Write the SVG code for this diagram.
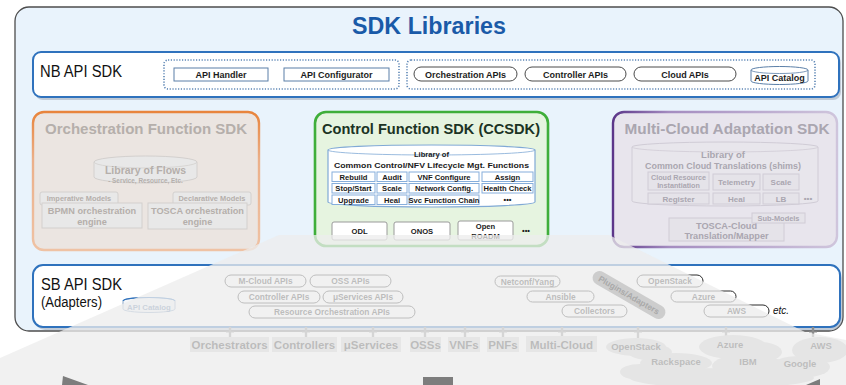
<svg xmlns="http://www.w3.org/2000/svg" width="846" height="385" viewBox="0 0 846 385">
  <defs>
    <linearGradient id="orchStroke" x1="0" y1="0" x2="0" y2="1">
      <stop offset="0" stop-color="#e8843c"/>
      <stop offset="0.35" stop-color="#ebb08a"/>
      <stop offset="1" stop-color="#efc2a4"/>
    </linearGradient>
    <linearGradient id="mcStroke" x1="0" y1="0" x2="1" y2="0">
      <stop offset="0" stop-color="#5c3689"/>
      <stop offset="0.25" stop-color="#a48cc0"/>
      <stop offset="1" stop-color="#cfc5dc"/>
    </linearGradient>
    <style>
      text { font-family: "Liberation Sans", "Open Sans", Arial, sans-serif; }
      .b { font-weight: bold; }
      .mid { text-anchor: middle; }
      .dot { fill: none; stroke: #5d86b5; stroke-width: 1.6; stroke-dasharray: 1.2 1.6; }
      .nbbox { fill: #ffffff; stroke: #5b7fa8; stroke-width: 1; }
      .nbpill { fill: #ffffff; stroke: #4a4a4a; stroke-width: 1; }
      .nbt { font-size: 9px; font-weight: bold; fill: #1c1c1c; text-anchor: middle; }
      .ofx { fill: #e8e8e8; stroke: #d3d0ce; stroke-width: 1; }
      .oft { font-weight: bold; fill: #b5afab; text-anchor: middle; }
      .cell { fill: #ffffff; stroke: #86aedb; stroke-width: 1; }
      .ct { font-size: 7.6px; font-weight: bold; fill: #1a1a1a; text-anchor: middle; }
      .ctl { fill: #ffffff; stroke: #9a9a9a; stroke-width: 1; }
      .mcx { fill: #e5e3e9; stroke: #d0ccd6; stroke-width: 1; }
      .mct { font-weight: bold; fill: #aaa6b0; text-anchor: middle; }
      .sbp { fill: #ffffff; stroke: #2a2a2a; stroke-width: 1; }
      .sbt { font-size: 8.4px; font-weight: bold; fill: #222222; text-anchor: middle; }
      .tick { stroke: #8c8c8c; stroke-width: 2.4; }
      .cap { stroke: #8c8c8c; stroke-width: 1.2; }
      .lblbg { fill: #d2d2d2; }
      .lbl { font-size: 11.5px; font-weight: bold; fill: #1e1e1e; text-anchor: middle; }
      .cloudt { font-size: 9.5px; font-weight: bold; fill: #262626; text-anchor: middle; }
      .arrow { fill: #7d7d7d; }
    </style>
  </defs>

  <rect width="846" height="385" fill="#ffffff"/>

  <!-- outer SDK Libraries panel -->
  <g id="sdk-libraries">
    <rect x="15" y="7" width="828" height="324" rx="14" fill="#e9f3fc" stroke="#4d4d4d" stroke-width="1.3"/>
    <text x="429" y="34" class="b mid" font-size="23" fill="#1a5aa8" textLength="154" lengthAdjust="spacingAndGlyphs">SDK Libraries</text>
  </g>

  <!-- northbound API SDK -->
  <g id="nb-api-sdk">
    <rect x="35" y="55" width="806" height="45" rx="8" fill="#8e9aa8" opacity="0.45"/>
    <rect x="33" y="52" width="806" height="45" rx="8" fill="#ffffff" stroke="#2f72bd" stroke-width="2"/>
    <text x="40" y="77" font-size="16" fill="#111111" textLength="82" lengthAdjust="spacingAndGlyphs">NB API SDK</text>
    <rect class="dot" x="164" y="60" width="235" height="29" rx="4"/>
    <rect class="dot" x="407" y="60" width="408" height="29" rx="4"/>
    <rect class="nbbox" x="174" y="68" width="94" height="13"/>
    <text class="nbt" x="221" y="78">API Handler</text>
    <rect class="nbbox" x="284" y="68" width="105" height="13"/>
    <text class="nbt" x="336.5" y="78">API Configurator</text>
    <rect class="nbpill" x="414" y="67" width="103" height="14" rx="7"/>
    <text class="nbt" x="465.5" y="77.5">Orchestration APIs</text>
    <rect class="nbpill" x="525" y="67" width="101" height="14" rx="7"/>
    <text class="nbt" x="575.5" y="77.5">Controller APIs</text>
    <rect class="nbpill" x="634" y="67" width="102" height="14" rx="7"/>
    <text class="nbt" x="685" y="77.5">Cloud APIs</text>
    <path d="M751,70 a28.5,3.5 0 0,1 57,0 v11 a28.5,3.5 0 0,1 -57,0 z" fill="#ffffff" stroke="#5b7fa8" stroke-width="1"/>
    <path d="M751,70 a28.5,3.5 0 0,0 57,0" fill="none" stroke="#5b7fa8" stroke-width="0.8"/>
    <text class="nbt" x="779.5" y="81" font-size="8.4">API Catalog</text>
  </g>

  <!-- orchestration function SDK (shown muted) -->
  <g id="orchestration-function-sdk">
    <rect x="33" y="112" width="226" height="138" rx="11" fill="#ebe5e1" stroke="url(#orchStroke)" stroke-width="2.4"/>
    <text class="oft" x="146" y="134" font-size="15.5" textLength="202" lengthAdjust="spacingAndGlyphs">Orchestration Function SDK</text>
    <path class="ofx" d="M94,162 a51.5,6 0 0,1 103,0 v15 a51.5,6 0 0,1 -103,0 z"/>
    <path d="M94,162 a51.5,6 0 0,0 103,0" fill="none" stroke="#d3d0ce" stroke-width="0.8"/>
    <text class="oft" x="145.5" y="173.5" font-size="10.5">Library of Flows</text>
    <text class="oft" x="145.5" y="182.5" font-size="6.4">- Service, Resource, Etc.</text>
    <rect class="ofx" x="40" y="192" width="78" height="13" rx="2"/>
    <text class="oft" x="79" y="201" font-size="7.4">Imperative Models</text>
    <rect class="ofx" x="42" y="203" width="100" height="25"/>
    <text class="oft" x="92" y="214" font-size="9.2">BPMN orchestration</text>
    <text class="oft" x="92" y="225" font-size="9.2">engine</text>
    <rect class="ofx" x="173" y="192" width="78" height="13" rx="2"/>
    <text class="oft" x="212" y="201" font-size="7.4">Declarative Models</text>
    <rect class="ofx" x="148" y="203" width="99" height="26"/>
    <text class="oft" x="197.5" y="214" font-size="9.2">TOSCA orchestration</text>
    <text class="oft" x="197.5" y="225" font-size="9.2">engine</text>
  </g>

  <!-- control function SDK -->
  <g id="ccsdk">
    <rect x="315" y="112" width="233" height="134" rx="11" fill="#e6f4e0" stroke="#3fae3a" stroke-width="2.6"/>
    <text x="431" y="134" class="b mid" font-size="15.5" fill="#1b3324" textLength="218" lengthAdjust="spacingAndGlyphs">Control Function SDK (CCSDK)</text>
    <path d="M328,150 a103.5,5 0 0,1 207,0 v52 a103.5,5 0 0,1 -207,0 z" fill="#ffffff" stroke="#80a9d6" stroke-width="1.2"/>
    <path d="M328,150 a103.5,5 0 0,0 207,0" fill="none" stroke="#80a9d6" stroke-width="0.8"/>
    <text class="ct" x="431.5" y="157" font-size="9">Library of</text>
    <text class="ct" x="431.5" y="168" font-size="9" textLength="195" lengthAdjust="spacingAndGlyphs">Common Control/NFV Lifecycle Mgt. Functions</text>
    <rect class="cell" x="332" y="172" width="43" height="9.5"/>
    <rect class="cell" x="377" y="172" width="30" height="9.5"/>
    <rect class="cell" x="409" y="172" width="70" height="9.5"/>
    <rect class="cell" x="482" y="172" width="51" height="9.5"/>
    <text class="ct" x="353.5" y="179.8">Rebuild</text>
    <text class="ct" x="392" y="179.8">Audit</text>
    <text class="ct" x="444" y="179.8">VNF Configure</text>
    <text class="ct" x="507.5" y="179.8">Assign</text>
    <rect class="cell" x="332" y="183.5" width="43" height="9.5"/>
    <rect class="cell" x="377" y="183.5" width="30" height="9.5"/>
    <rect class="cell" x="409" y="183.5" width="70" height="9.5"/>
    <rect class="cell" x="482" y="183.5" width="51" height="9.5"/>
    <text class="ct" x="353.5" y="191.3">Stop/Start</text>
    <text class="ct" x="392" y="191.3">Scale</text>
    <text class="ct" x="444" y="191.3">Network Config.</text>
    <text class="ct" x="507.5" y="191.3">Health Check</text>
    <rect class="cell" x="332" y="195" width="43" height="9.5"/>
    <rect class="cell" x="377" y="195" width="30" height="9.5"/>
    <rect class="cell" x="409" y="195" width="70" height="9.5"/>
    <text class="ct" x="353.5" y="202.8">Upgrade</text>
    <text class="ct" x="392" y="202.8">Heal</text>
    <text class="ct" x="444" y="202.8">Svc Function Chain</text>
    <text class="ct" x="507.5" y="202">•••</text>
    <rect class="ctl" x="332" y="222" width="55" height="18" rx="2"/>
    <text class="ct" x="359.5" y="234" font-size="9">ODL</text>
    <rect class="ctl" x="394" y="222" width="56" height="18" rx="2"/>
    <text class="ct" x="422" y="234" font-size="9">ONOS</text>
    <rect class="ctl" x="458" y="221" width="55" height="19" rx="2"/>
    <text class="ct" x="485.5" y="229" font-size="8.5">Open</text>
    <text class="ct" x="485.5" y="239" font-size="8.5">ROADM</text>
    <text class="ct" x="526" y="233" font-size="9">•••</text>
  </g>

  <!-- multi-cloud adaptation SDK (shown muted) -->
  <g id="multi-cloud-sdk">
    <rect x="613" y="112" width="224" height="135" rx="11" fill="#e8e5ed" stroke="url(#mcStroke)" stroke-width="2.4"/>
    <text class="mct" x="727" y="134" font-size="15.5" textLength="205" lengthAdjust="spacingAndGlyphs">Multi-Cloud Adaptation SDK</text>
    <path d="M632,147 a93,5 0 0,1 186,0 v54 a93,5 0 0,1 -186,0 z" fill="#e8e6ec" stroke="#d0ccd6" stroke-width="1"/>
    <path d="M632,147 a93,5 0 0,0 186,0" fill="none" stroke="#d0ccd6" stroke-width="0.8"/>
    <text class="mct" x="723" y="158" font-size="9.5">Library of</text>
    <text class="mct" x="723" y="169" font-size="9.5" textLength="156" lengthAdjust="spacingAndGlyphs">Common Cloud Translations (shims)</text>
    <rect class="mcx" x="648" y="172" width="61" height="18"/>
    <text class="mct" x="678.5" y="179.5" font-size="7.2">Cloud Resource</text>
    <text class="mct" x="678.5" y="188" font-size="7.2">Instantiation</text>
    <rect class="mcx" x="713" y="174" width="47" height="16"/>
    <text class="mct" x="736.5" y="185" font-size="8">Telemetry</text>
    <rect class="mcx" x="763" y="174" width="36" height="16"/>
    <text class="mct" x="781" y="185" font-size="8">Scale</text>
    <rect class="mcx" x="648" y="193" width="61" height="11"/>
    <text class="mct" x="678.5" y="201.5" font-size="8">Register</text>
    <rect class="mcx" x="713" y="193" width="47" height="11"/>
    <text class="mct" x="736.5" y="201.5" font-size="8">Heal</text>
    <rect class="mcx" x="763" y="193" width="36" height="11"/>
    <text class="mct" x="781" y="201.5" font-size="8">LB</text>
    <text class="mct" x="808" y="200.5" font-size="8">•••</text>
    <rect class="mcx" x="669" y="218" width="115" height="23"/>
    <text class="mct" x="726.5" y="228.5" font-size="9.2">TOSCA-Cloud</text>
    <text class="mct" x="726.5" y="239" font-size="9.2">Translation/Mapper</text>
    <rect class="mcx" x="752" y="213" width="53" height="10"/>
    <text class="mct" x="778.5" y="221" font-size="7.4">Sub-Models</text>
  </g>

  <!-- southbound API SDK -->
  <g id="sb-api-sdk">
    <rect x="35" y="268" width="807" height="62" rx="10" fill="#8e9aa8" opacity="0.45"/>
    <rect x="33" y="265" width="807" height="62" rx="10" fill="#ffffff" stroke="#2f72bd" stroke-width="2"/>
    <text x="41" y="290" font-size="17" fill="#111111" textLength="81" lengthAdjust="spacingAndGlyphs">SB API SDK</text>
    <text x="41" y="307" font-size="14" fill="#111111" textLength="61" lengthAdjust="spacingAndGlyphs">(Adapters)</text>
    <path d="M123,301 a26,3.5 0 0,1 52,0 v8 a26,3.5 0 0,1 -52,0 z" fill="#f3f6fa" stroke="#8aa6c6" stroke-width="1"/>
    <path d="M123,301 a26,3.5 0 0,1 52,0" fill="none" stroke="#2f72bd" stroke-width="1.2"/>
    <text class="sbt" x="149" y="309.5" style="fill:#5d7ea6;font-size:7.8px">API Catalog</text>
    <rect class="sbp" x="225" y="275" width="81" height="12" rx="6"/>
    <text class="sbt" x="265.5" y="284">M-Cloud APIs</text>
    <rect class="sbp" x="310" y="275" width="81" height="12" rx="6"/>
    <text class="sbt" x="350.5" y="284">OSS APIs</text>
    <rect class="sbp" x="238" y="291" width="82" height="12" rx="6"/>
    <text class="sbt" x="279" y="300">Controller APIs</text>
    <rect class="sbp" x="323" y="291" width="80" height="12" rx="6"/>
    <text class="sbt" x="363" y="300">μServices APIs</text>
    <rect class="sbp" x="249" y="306" width="166" height="12" rx="6"/>
    <text class="sbt" x="332" y="315">Resource Orchestration APIs</text>
    <rect class="sbp" x="495" y="276" width="65" height="11" rx="5.5"/>
    <text class="sbt" x="527.5" y="284.5">Netconf/Yang</text>
    <rect class="sbp" x="527" y="291" width="67" height="11" rx="5.5"/>
    <text class="sbt" x="560.5" y="299.5">Ansible</text>
    <rect class="sbp" x="562" y="305" width="65" height="12" rx="6"/>
    <text class="sbt" x="594.5" y="314">Collectors</text>
    <rect class="sbp" x="637" y="275" width="66" height="12" rx="6"/>
    <text class="sbt" x="670" y="284">OpenStack</text>
    <rect class="sbp" x="671" y="291" width="65" height="11" rx="5.5"/>
    <text class="sbt" x="703.5" y="299.5">Azure</text>
    <rect class="sbp" x="704" y="305" width="65" height="12" rx="6"/>
    <text class="sbt" x="736.5" y="314">AWS</text>
    <text x="773" y="314" font-size="10" font-style="italic" fill="#111111">etc.</text>
  </g>

  <!-- links from the southbound SDK down to the managed systems -->
  <g id="connectors">
    <line class="tick" x1="230" y1="327" x2="230" y2="337"/>
    <line class="tick" x1="306" y1="327" x2="306" y2="337"/>
    <line class="tick" x1="373" y1="327" x2="373" y2="337"/>
    <line class="tick" x1="425" y1="327" x2="425" y2="337"/>
    <line class="tick" x1="465" y1="327" x2="465" y2="337"/>
    <line class="tick" x1="503" y1="327" x2="503" y2="337"/>
    <line class="tick" x1="562" y1="327" x2="562" y2="337"/>
    <line class="tick" x1="638" y1="327" x2="638" y2="338"/>
    <line class="tick" x1="726" y1="327" x2="726" y2="337"/>
    <line class="tick" x1="813" y1="327" x2="813" y2="337"/>
    <path class="cap" d="M226,332h8M302,332h8M369,332h8M421,332h8M461,332h8M499,332h8M558,332h8M634,332h8M722,332h8M809,332h8"/>
  </g>

  <!-- managed systems -->
  <g id="southbound-targets">
    <rect class="lblbg" x="190" y="337" width="79" height="15"/>
    <text class="lbl" x="229.5" y="348.5">Orchestrators</text>
    <rect class="lblbg" x="272" y="337" width="65" height="15"/>
    <text class="lbl" x="304.5" y="348.5">Controllers</text>
    <rect class="lblbg" x="341" y="337" width="60" height="15"/>
    <text class="lbl" x="371" y="348.5">μServices</text>
    <rect class="lblbg" x="410" y="337" width="31" height="15"/>
    <text class="lbl" x="425.5" y="348.5">OSSs</text>
    <rect class="lblbg" x="448" y="337" width="32" height="15"/>
    <text class="lbl" x="464" y="348.5">VNFs</text>
    <rect class="lblbg" x="487" y="337" width="32" height="15"/>
    <text class="lbl" x="503" y="348.5">PNFs</text>
    <rect class="lblbg" x="526" y="336" width="71" height="16"/>
    <text class="lbl" x="561.5" y="349" font-size="13">Multi-Cloud</text>
  </g>

  <g id="clouds" fill="#cdcdcd">
    <ellipse cx="636" cy="347" rx="30" ry="9"/>
    <ellipse cx="650" cy="352" rx="22" ry="8"/>
    <ellipse cx="733" cy="347" rx="34" ry="12"/>
    <ellipse cx="760" cy="352" rx="22" ry="10"/>
    <ellipse cx="820" cy="350" rx="28" ry="13"/>
    <ellipse cx="676" cy="363" rx="36" ry="10"/>
    <ellipse cx="748" cy="366" rx="36" ry="12"/>
    <ellipse cx="800" cy="367" rx="30" ry="11"/>
    <ellipse cx="722" cy="378" rx="92" ry="10"/>
    <ellipse cx="640" cy="372" rx="20" ry="8"/>
  </g>
  <g id="cloud-labels">
    <text class="cloudt" x="636" y="350">OpenStack</text>
    <text class="cloudt" x="730" y="348">Azure</text>
    <text class="cloudt" x="821" y="349">AWS</text>
    <text class="cloudt" x="676" y="365">Rackspace</text>
    <text class="cloudt" x="748" y="365">IBM</text>
    <text class="cloudt" x="800" y="367">Google</text>
  </g>

  <!-- translucent floor plane over the lower part -->
  <polygon points="0,358 279,235 609,235 805,332 846,340 846,385 0,385" fill="#ececec" opacity="0.76"/>

  <!-- plug-in ribbon, already muted, sits on the plane -->
  <g id="plugins-adapters" transform="translate(629,295) rotate(30)">
    <rect x="-41" y="-7" width="82" height="14" rx="7" fill="#cdcdcd"/>
    <text class="sbt" x="0" y="3" style="fill:#a9a9a9">Plugins/Adapters</text>
  </g>

  <!-- tips of the large grey arrows along the bottom edge -->
  <g id="bottom-arrows">
    <polygon class="arrow" points="63,376 88,385 62,385"/>
    <rect class="arrow" x="423" y="377" width="30" height="8"/>
    <polygon class="arrow" points="806,385 820,379 820,385"/>
  </g>
</svg>
